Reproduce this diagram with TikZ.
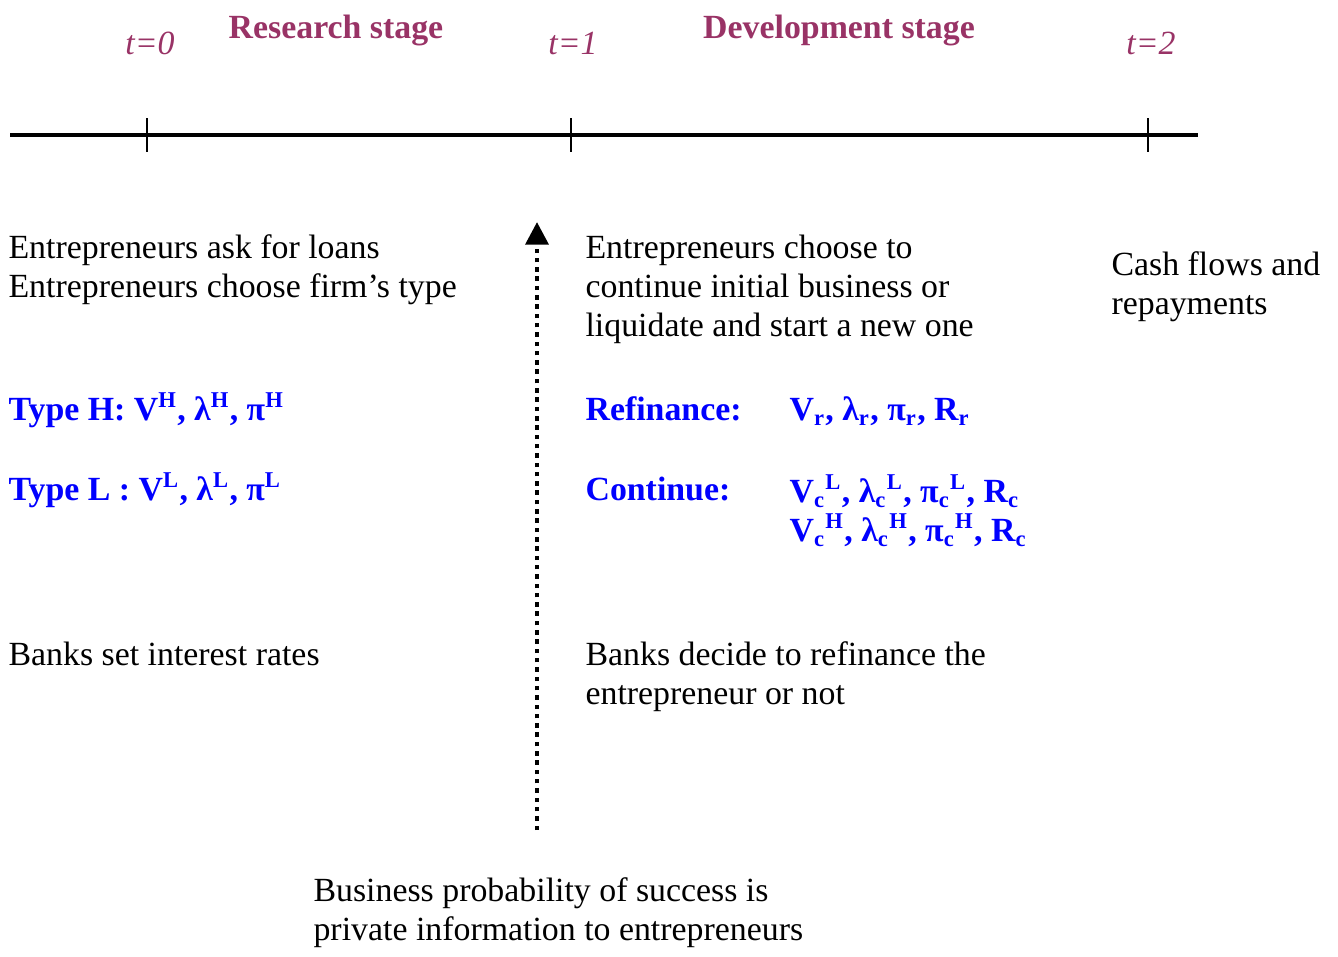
\documentclass[tikz,border=0pt]{standalone}
\usepackage{fontspec}
\setmainfont{Liberation Serif}
\usetikzlibrary{arrows, arrows.meta}
\definecolor{stagecol}{RGB}{153,51,102}

\begin{document}
\begin{tikzpicture}[x=0.3546pt, y=-0.3546pt,
        txt/.style = {anchor=base west, inner sep=0pt, align=left, font=\fontsize{12}{13.8}\selectfont},
        param/.style = {txt, text=blue, font=\fontsize{12}{13.8}\selectfont\bfseries},
        stagelbl/.style = {anchor=base, inner sep=0pt, text=stagecol, font=\fontsize{12}{13.8}\selectfont\bfseries},
        tlbl/.style = {anchor=base, inner sep=0pt, text=stagecol, font=\fontsize{12}{13.8}\selectfont\itshape}]
                \useasboundingbox (0,0) rectangle (1338,956);

                % time line
                \coordinate (lstart) at (10, 135);
                \coordinate (lend) at (1198, 135);
                \draw [line width=1.1pt] (lstart) -- (lend);
                \draw [line width=0.4pt] (147, 118) -- (147, 152);
                \draw [line width=0.4pt] (571, 118) -- (571, 152);
                \draw [line width=0.4pt] (1148, 118) -- (1148, 152);

                \node[tlbl] at (150, 55) (t0) {t=0};
                \node[tlbl] at (573, 55) (t1) {t=1};
                \node[tlbl] at (1151, 55) (t2) {t=2};
                \node[stagelbl] at (336, 38) (research) {Research stage};
                \node[stagelbl] at (839, 38) (development) {Development stage};

                % research stage (base = last line)
                \node[txt] at (8, 297) (ask) {Entrepreneurs ask for loans\\Entrepreneurs choose firm’s type};
                \node[param] at (8, 420) (typeH) {Type H: V\textsuperscript{H}, λ\textsuperscript{H}, π\textsuperscript{H}};
                \node[param] at (8, 500) (typeL) {Type L : V\textsuperscript{L}, λ\textsuperscript{L}, π\textsuperscript{L}};
                \node[txt] at (8, 665) (rates) {Banks set interest rates};

                % development stage
                \node[txt] at (585, 336) (choose) {Entrepreneurs choose to\\continue initial business or\\liquidate and start a new one};
                \node[param] at (585, 420) (refin) {Refinance:};
                \node[param] at (789, 420) (refinval) {V\textsubscript{r}, λ\textsubscript{r}, π\textsubscript{r}, R\textsubscript{r}};
                \node[param] at (585, 500) (cont) {Continue:};
                \node[param] at (789, 541) (contval) {V\textsubscript{c}\textsuperscript{L}, λ\textsubscript{c}\textsuperscript{L}, π\textsubscript{c}\textsuperscript{L}, R\textsubscript{c}\\V\textsubscript{c}\textsuperscript{H}, λ\textsubscript{c}\textsuperscript{H}, π\textsubscript{c}\textsuperscript{H}, R\textsubscript{c}};
                \node[txt] at (585, 704) (decide) {Banks decide to refinance the\\entrepreneur or not};
                \node[txt] at (1111, 314) (cash) {Cash flows and\\repayments};

                \node[txt] at (313, 940) (private) {Business probability of success is\\private information to entrepreneurs};

                % information arrow
                \coordinate (arrbot) at (537, 830);
                \coordinate (arrtop) at (537, 222);
                \draw [-{Triangle[width=8pt, length=8pt]}, line width=1.6pt, dash pattern=on 1.6pt off 1.7pt] (arrbot) -- (arrtop);
            \end{tikzpicture}
\end{document}
